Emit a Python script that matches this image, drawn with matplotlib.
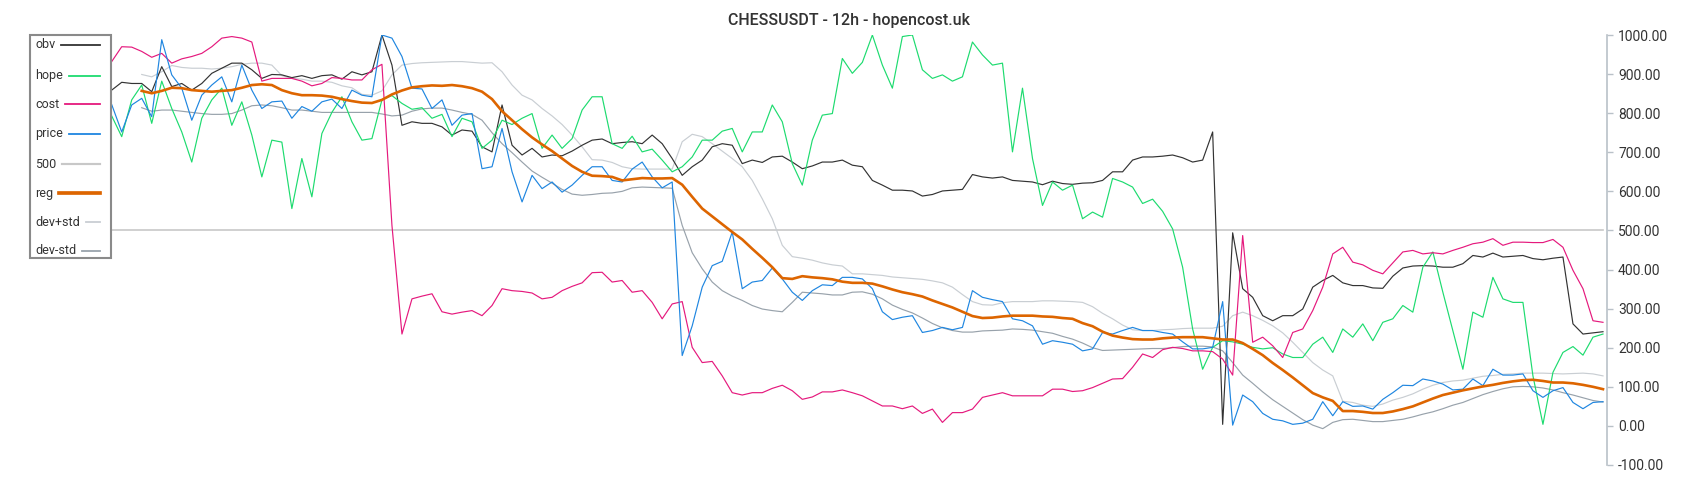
import numpy as np
import matplotlib
matplotlib.use("Agg")
import matplotlib.pyplot as plt
from matplotlib.lines import Line2D
from matplotlib.patches import Rectangle

plt.rcParams['font.family'] = ['Roboto', 'DejaVu Sans']

title = "CHESSUSDT - 12h - hopencost.uk"
labels = ["obv", "hope", "cost", "price", "500", "reg", "dev+std", "dev-std"]
yticks = [-100, 0, 100, 200, 300, 400, 500, 600, 700, 800, 900, 1000]

obv = [859, 879, 876, 876, 855, 919, 868, 876, 859, 876, 902, 915, 928, 928, 911, 889, 899, 898, 891, 896, 889, 896, 898, 887, 906,
       898, 906, 1000, 923, 769, 778, 774, 774, 765, 744, 757, 754, 714, 701, 821, 718, 693, 710, 688, 693, 691, 703, 718, 731, 734,
       722, 725, 727, 722, 744, 722, 684, 641, 663, 680, 714, 722, 718, 671, 680, 674, 688, 690, 675, 658, 665, 675, 675, 680, 667,
       663, 628, 616, 603, 603, 601, 588, 592, 601, 603, 605, 643, 637, 634, 637, 628, 626, 624, 617, 626, 620, 618, 621, 622, 628,
       650, 650, 680, 688, 688, 690, 693, 686, 675, 680, 752, 4, 494, 351, 329, 282, 269, 282, 282, 299, 355, 372, 385, 366, 359,
       359, 353, 352, 383, 404, 409, 410, 409, 406, 406, 415, 436, 432, 442, 432, 434, 436, 428, 425, 429, 432, 261, 235, 238, 241]

hope = [793, 740, 834, 872, 774, 882, 812, 752, 675, 787, 834, 864, 769, 829, 744, 637, 731, 726, 556, 684, 586, 748, 802, 842, 778,
        731, 735, 834, 845, 825, 810, 814, 787, 797, 740, 787, 778, 710, 731, 782, 771, 787, 799, 710, 744, 710, 735, 808, 842, 842,
        722, 710, 741, 701, 708, 680, 650, 663, 688, 731, 731, 754, 761, 701, 752, 752, 821, 778, 671, 616, 731, 795, 799, 940, 902,
        930, 1000, 923, 864, 996, 1000, 911, 889, 898, 882, 893, 982, 949, 923, 928, 701, 864, 684, 564, 624, 603, 616, 530, 547, 534,
        633, 624, 611, 569, 580, 549, 504, 406, 248, 145, 201, 218, 215, 209, 201, 197, 200, 184, 175, 175, 209, 227, 188, 248, 227,
        261, 218, 265, 274, 308, 291, 406, 445, 342, 244, 145, 291, 278, 380, 325, 316, 316, 128, 4, 137, 188, 203, 181, 227, 235]

cost = [932, 970, 969, 958, 943, 953, 928, 939, 945, 953, 970, 992, 996, 992, 982, 882, 889, 889, 889, 882, 870, 876, 891, 889, 885,
        885, 911, 925, 513, 235, 325, 332, 338, 292, 286, 291, 295, 282, 308, 351, 346, 344, 340, 325, 329, 346, 357, 366, 392, 393,
        368, 372, 342, 346, 316, 274, 312, 318, 201, 162, 165, 128, 85, 79, 85, 85, 96, 104, 90, 68, 74, 87, 87, 92, 85,
        77, 64, 51, 51, 44, 51, 32, 43, 9, 34, 34, 43, 73, 79, 85, 77, 77, 77, 77, 94, 94, 88, 90, 98, 109,
        120, 121, 150, 184, 175, 195, 201, 198, 192, 192, 190, 171, 130, 487, 214, 227, 205, 175, 239, 248, 295, 355, 440, 457, 419,
        412, 398, 389, 417, 445, 449, 440, 443, 440, 449, 457, 466, 470, 479, 462, 470, 470, 469, 469, 477, 457, 398, 351, 269, 265]

price = [822, 752, 821, 838, 791, 988, 898, 864, 782, 846, 872, 893, 829, 923, 859, 812, 829, 831, 787, 817, 805, 829, 836, 812, 859,
         846, 842, 1000, 992, 945, 864, 862, 812, 834, 769, 795, 799, 658, 663, 761, 650, 573, 641, 607, 624, 598, 616, 641, 663, 663,
         628, 624, 657, 675, 637, 609, 624, 180, 256, 355, 410, 421, 496, 351, 368, 372, 404, 376, 342, 321, 346, 361, 359, 380, 380,
         376, 351, 292, 272, 278, 282, 239, 244, 252, 246, 252, 346, 329, 323, 318, 274, 269, 256, 209, 218, 214, 209, 192, 197, 239,
         235, 244, 252, 244, 244, 239, 235, 215, 197, 197, 201, 318, 2, 79, 62, 32, 17, 13, 4, 7, 17, 62, 26, 62, 50,
         51, 43, 68, 85, 104, 103, 120, 115, 107, 92, 94, 120, 103, 145, 130, 130, 133, 90, 73, 90, 98, 60, 44, 60, 62]

line500 = [500] * 150

reg = [857, 851, 857, 865, 864, 859, 857, 855, 857, 859, 865, 872, 874, 872, 859, 851, 846, 846, 845, 842, 836, 831,
       827, 826, 834, 848, 858, 866, 869, 871, 870, 872, 869, 864, 855, 836, 805, 782, 759, 738, 720, 703, 684, 665, 650, 640, 639,
       637, 628, 631, 634, 633, 633, 634, 617, 586, 556, 536, 516, 496, 477, 453, 430, 406, 378, 376, 383, 380, 378, 375, 369, 366,
       366, 364, 357, 349, 342, 337, 331, 321, 312, 303, 292, 281, 276, 277, 280, 282, 282, 282, 280, 279, 276, 274, 263, 255, 241,
       231, 226, 222, 221, 221, 224, 226, 227, 227, 227, 224, 221, 221, 212, 197, 181, 161, 143, 124, 104, 84, 73, 64, 38, 38,
       36, 33, 33, 37, 43, 50, 60, 70, 79, 85, 91, 96, 101, 105, 110, 114, 117, 118, 115, 111, 111, 109, 105, 100, 94]

dev_plus = [899, 893, 906, 922, 917, 915, 915, 913, 915, 919, 925, 928, 928, 923, 896, 889, 887, 882, 882, 879, 870, 865,
            848, 846, 857, 898, 923, 927, 929, 930, 931, 932, 932, 930, 928, 929, 906, 872, 846, 834, 812, 793, 771, 744, 714, 681, 680,
            674, 663, 658, 657, 657, 657, 657, 727, 746, 740, 722, 703, 684, 663, 628, 581, 530, 462, 433, 429, 424, 417, 412, 409, 389,
            389, 387, 385, 381, 379, 377, 375, 371, 366, 355, 336, 318, 310, 309, 315, 318, 318, 318, 320, 320, 319, 318, 316, 305, 288,
            274, 258, 246, 244, 244, 246, 247, 249, 250, 250, 250, 255, 282, 291, 282, 270, 256, 238, 214, 188, 162, 143, 128, 63, 60,
            53, 50, 56, 66, 73, 82, 94, 104, 111, 115, 117, 122, 127, 129, 132, 133, 135, 135, 135, 134, 133, 134, 135, 133, 128]

dev_minus = [814, 805, 808, 808, 805, 802, 799, 797, 797, 799, 808, 819, 821, 819, 814, 808, 808, 805, 802, 802, 802, 802,
             802, 802, 798, 793, 795, 805, 811, 813, 813, 808, 802, 797, 782, 750, 722, 699, 675, 652, 636, 621, 605, 593, 590, 592, 595,
             596, 600, 609, 611, 610, 609, 608, 513, 443, 402, 368, 346, 332, 321, 308, 299, 295, 292, 316, 342, 340, 338, 335, 335, 342,
             343, 337, 325, 309, 298, 289, 276, 262, 251, 244, 240, 240, 243, 244, 245, 248, 247, 245, 241, 237, 229, 222, 212, 200, 193,
             194, 195, 196, 197, 198, 198, 200, 203, 204, 204, 202, 192, 162, 130, 109, 87, 67, 50, 33, 16, 2, -7, 9, 16, 17,
             14, 11, 11, 14, 17, 23, 30, 36, 44, 53, 60, 70, 80, 88, 95, 100, 101, 100, 97, 92, 85, 79, 72, 65, 61]

band_start = 3

colors = {
    "obv": "#333333",
    "hope": "#1ddb6f",
    "cost": "#e5197d",
    "price": "#1f86e0",
    "500": "#c8c8c8",
    "reg": "#dd6500",
    "dev+std": "#c9ced3",
    "dev-std": "#98a2ab",
}
widths = {"obv": 0.85, "hope": 0.85, "cost": 0.85, "price": 0.85, "500": 1.2,
          "reg": 1.9, "dev+std": 0.85, "dev-std": 0.85}

W, H = 1700, 500
fig = plt.figure(figsize=(17, 5), dpi=100)
ax_l, ax_r, ax_t, ax_b = 111, 1607, 35, 465
ax = fig.add_axes([ax_l / W, 1 - ax_b / H, (ax_r - ax_l) / W, (ax_b - ax_t) / H])

n = len(obv)
x = np.arange(n)
xb = np.arange(band_start, n)

series = {
    "obv": (x, obv), "hope": (x, hope), "cost": (x, cost), "price": (x, price),
    "500": (x, line500), "reg": (xb, reg), "dev+std": (xb, dev_plus), "dev-std": (xb, dev_minus),
}
z = {"500": 1, "dev+std": 2, "dev-std": 2, "obv": 3, "hope": 3, "cost": 3, "price": 3, "reg": 4}
for name in labels:
    xs, ys = series[name]
    ax.plot(xs, ys, color=colors[name], lw=widths[name], zorder=z[name],
            solid_joinstyle="round", antialiased=True)

ax.set_xlim(-0.07, n - 1 + 0.4)
ax.set_ylim(-100, 1000)
ax.set_yticks(yticks)
ax.set_yticklabels([f"{v:.2f}" for v in yticks])
ax.yaxis.tick_right()
ax.tick_params(axis="y", direction="out", length=4, width=1, color="#b9c1c8",
               labelsize=10, labelcolor="#333333", pad=4)
ax.tick_params(axis="x", bottom=False, labelbottom=False)
for s in ["top", "bottom", "left"]:
    ax.spines[s].set_visible(False)
ax.spines["right"].set_color("#b9c1c8")
ax.spines["right"].set_linewidth(1.2)
ax.patch.set_alpha(0)

fig.text(849 / W, 1 - 20 / H, title, ha="center", va="center", fontsize=11.5,
         color="#333333", fontweight="medium")

# legend box
leg_x0, leg_x1, leg_y0, leg_y1 = 30, 111, 35, 258
fig.patches.append(Rectangle((leg_x0 / W, 1 - leg_y1 / H), (leg_x1 - leg_x0) / W, (leg_y1 - leg_y0) / H,
                             transform=fig.transFigure, facecolor="white", edgecolor="#8a8a8a",
                             linewidth=1.5, zorder=10))
leg_ys = [45, 76, 104, 134, 164, 193, 222, 251]
fig.canvas.draw()
renderer = fig.canvas.get_renderer()
for name, ly in zip(labels, leg_ys):
    t = fig.text(35 / W, 1 - ly / H, name, ha="left", va="center", fontsize=9,
                 color="#333333", zorder=11)
    bb = t.get_window_extent(renderer=renderer)
    x_start = bb.x1 + 6
    fig.add_artist(Line2D([x_start / W, 100 / W], [1 - ly / H, 1 - ly / H],
                          transform=fig.transFigure, color=colors[name],
                          lw=max(widths[name], 1.0) * (1.4 if name == "reg" else 1.3), zorder=11))

fig.savefig("out.png", dpi=100)
